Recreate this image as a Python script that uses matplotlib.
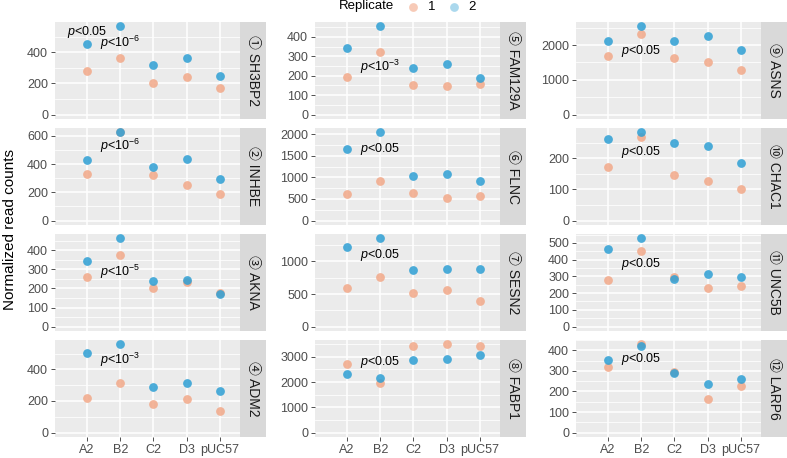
import matplotlib
matplotlib.use("Agg")
import numpy as np
from matplotlib import pyplot as plt

plt.rcParams['font.family'] = ['Liberation Sans', 'Noto Sans CJK JP', 'DejaVu Sans']
plt.rcParams['mathtext.fontset'] = 'custom'
plt.rcParams['mathtext.rm'] = 'Liberation Sans'
plt.rcParams['mathtext.it'] = 'Liberation Sans:italic'

# data
samples = ['A2', 'B2', 'C2', 'D3', 'pUC57']
genes = ['SH3BP2', 'INHBE', 'AKNA', 'ADM2',
         'FAM129A', 'FLNC', 'SESN2', 'FABP1',
         'ASNS', 'CHAC1', 'UNC5B', 'LARP6']
rep1 = [[277, 360, 200, 243, 168],
        [331, 625, 325, 250, 190],
        [259, 374, 200, 235, 178],
        [217, 312, 183, 213, 135],
        [194, 324, 153, 145, 160],
        [614, 920, 646, 522, 575],
        [591, 758, 509, 563, 392],
        [2700, 1974, 3423, 3490, 3411],
        [1690, 2312, 1625, 1528, 1293],
        [171, 269, 147, 128, 100],
        [279, 449, 294, 230, 244],
        [319, 429, 296, 163, 226]]
rep2 = [[450, 565, 318, 364, 248],
        [430, 625, 380, 434, 292],
        [345, 463, 241, 245, 170],
        [501, 558, 290, 315, 265],
        [344, 454, 238, 260, 188],
        [1648, 2039, 1026, 1076, 918],
        [1221, 1353, 868, 877, 886],
        [2317, 2171, 2858, 2910, 3067],
        [2114, 2539, 2114, 2256, 1859],
        [261, 283, 249, 240, 184],
        [462, 527, 287, 313, 295],
        [353, 419, 292, 236, 261]]
# p-value labels: (gene index, sample index, y, text)
pvals = [(0, 0, 528, r'$p$<0.05'),
         (0, 1, 459, r'$p$<10$^{-6}$'),
         (1, 1, 531, r'$p$<10$^{-6}$'),
         (2, 1, 285, r'$p$<10$^{-5}$'),
         (3, 1, 459, r'$p$<10$^{-3}$'),
         (4, 1, 248, r'$p$<10$^{-3}$'),
         (5, 1, 1648, r'$p$<0.05'),
         (6, 1, 1100, r'$p$<0.05'),
         (7, 1, 2803, r'$p$<0.05'),
         (8, 1, 1840, r'$p$<0.05'),
         (9, 1, 221, r'$p$<0.05'),
         (10, 1, 374, r'$p$<0.05'),
         (11, 1, 360, r'$p$<0.05')]
ystep = [200, 200, 100, 200, 100, 500, 500, 1000, 1000, 100, 100, 100]

col1 = '#F2A888'
col2 = '#2E9FD4'

W, H = 787, 458
fig = plt.figure(figsize=(W / 100, H / 100), dpi=100)

col_x = [55, 315, 576]
row_y = [22, 128, 234, 340]
pw, ph, sw = 184.5, 97, 26.5

def frac(x, y, w, h):
    return [x / W, 1 - (y + h) / H, w / W, h / H]

xs = np.arange(1, len(samples) + 1)
for g in range(len(genes)):
    c, r = g // 4, g % 4
    ax = fig.add_axes(frac(col_x[c], row_y[r], pw, ph))
    ax.set_facecolor('#EBEBEB')
    for s in ax.spines.values():
        s.set_visible(False)
    ymax = max(max(rep1[g]), max(rep2[g]))
    ax.set_ylim(-0.05 * ymax, 1.05 * ymax)
    ax.set_xlim(0.03, 5.6)
    st = ystep[g]
    major = np.arange(0, ymax * 1.05 + 1, st)
    minor = np.arange(st / 2, ymax * 1.05, st)
    ax.set_yticks(major)
    ax.set_yticks(minor, minor=True)
    ax.set_yticklabels([str(int(v)) for v in major])
    ax.set_xticks(xs)
    ax.grid(True, which='major', color='white', lw=1.1)
    ax.grid(True, which='minor', axis='y', color='white', lw=0.55)
    ax.set_axisbelow(True)
    ax.tick_params(axis='y', which='minor', length=0)
    ax.tick_params(axis='both', which='major', length=3, width=0.6,
                   color='#333333', labelcolor='#4D4D4D', labelsize=9, pad=2)
    if r == 3:
        ax.set_xticklabels(samples)
    else:
        ax.tick_params(axis='x', length=0, labelbottom=False)

    ax.scatter(xs, rep1[g], s=40, color=col1, alpha=0.85, lw=0, zorder=3)
    ax.scatter(xs, rep2[g], s=40, color=col2, alpha=0.85, lw=0, zorder=4)

    for gi, si, yv, txt in pvals:
        if gi == g:
            ax.text(xs[si], yv, txt, ha='center', va='center', fontsize=9,
                    color='black', zorder=5)

    sax = fig.add_axes(frac(col_x[c] + pw, row_y[r], sw, ph))
    sax.set_facecolor('#D9D9D9')
    sax.set_xticks([])
    sax.set_yticks([])
    for s in sax.spines.values():
        s.set_visible(False)
    sax.text(0.5, 0.5, chr(0x2460 + g) + ' ' + genes[g], rotation=-90,
             ha='center', va='center', fontsize=10, color='#1A1A1A',
             family=['Liberation Sans', 'Noto Sans CJK JP', 'DejaVu Sans'],
             transform=sax.transAxes)

fig.text(10 / W, 1 - 230 / H, 'Normalized read counts', rotation=90,
         ha='center', va='center', fontsize=11)

# legend
lax = fig.add_axes([0, 0, 1, 1])
lax.set_xlim(0, W)
lax.set_ylim(H, 0)
lax.axis('off')
lax.text(366, 6.5, 'Replicate', ha='center', va='center', fontsize=9.5)
lax.scatter([413], [6.5], s=40, color=col1, alpha=0.6, lw=0)
lax.scatter([454], [6.5], s=40, color=col2, alpha=0.4, lw=0)
lax.text(432, 6.5, '1', ha='center', va='center', fontsize=9.5)
lax.text(472, 6.5, '2', ha='center', va='center', fontsize=9.5)

fig.savefig('out.png', dpi=100)
